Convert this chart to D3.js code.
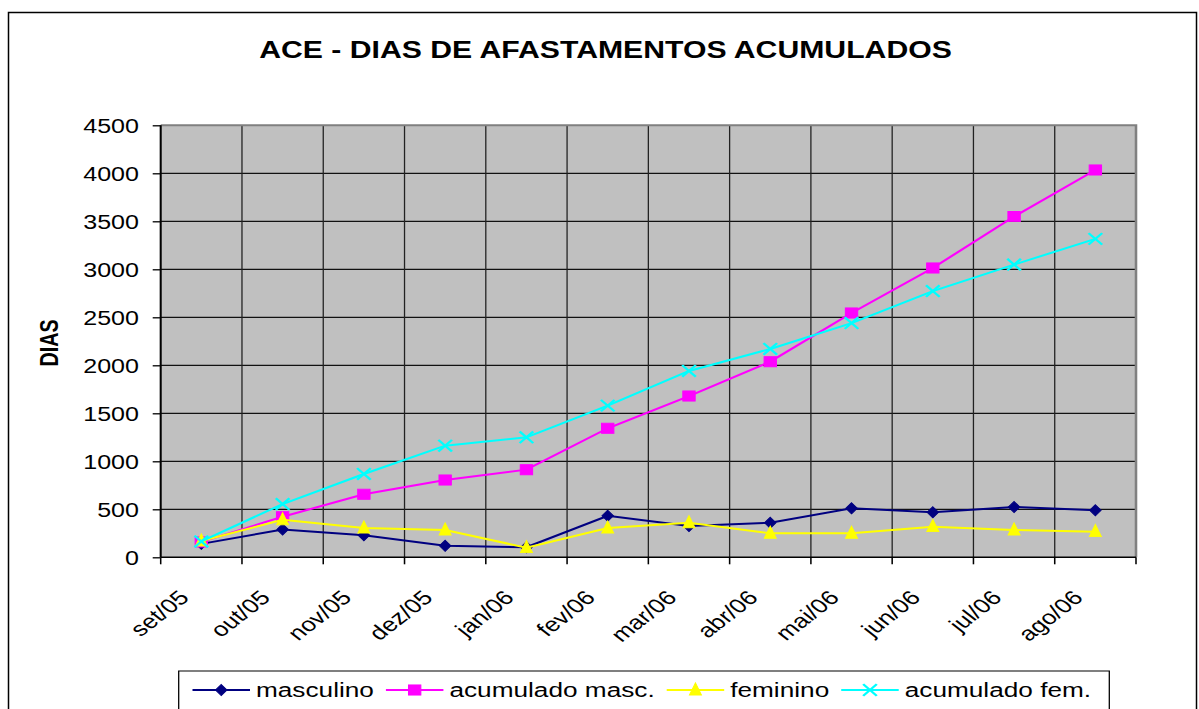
<!DOCTYPE html>
<html>
<head>
<meta charset="utf-8">
<script src="https://cdn.jsdelivr.net/npm/d3@7"></script>
<style>
  body { margin: 0; background: #fff; }
  text { font-family: "Liberation Sans", Arial, sans-serif; fill: #000; }
</style>
</head>
<body>
<div id="chart"></div>
<script>
// Data
var months = ["set/05", "out/05", "nov/05", "dez/05", "jan/06", "fev/06",
              "mar/06", "abr/06", "mai/06", "jun/06", "jul/06", "ago/06"];
var masculino = [140, 290, 230, 120, 105, 433, 325, 360, 510, 469, 524, 490];
var acumuladoMasc = [160, 423, 656, 805, 913, 1344, 1680, 2038, 2545, 3014, 3549, 4035];
var feminino = [170, 390, 305, 284, 100, 305, 360, 250, 250, 319, 284, 267];
var acumuladoFem = [165, 555, 868, 1163, 1250, 1580, 1941, 2170, 2440, 2773, 3049, 3317];
var yTicks = [0, 500, 1000, 1500, 2000, 2500, 3000, 3500, 4000, 4500];
var seriesNames = ["masculino", "acumulado masc.", "feminino", "acumulado fem."];

// Set up the chart
var svgWidth = 1199;
var svgHeight = 709;

// the original picture is stretched sideways, so everything is drawn
// in a narrower space and scaled back out
var sx = 1.285;

var plot = { left: 160.7, right: 1136, top: 125.3, bottom: 557.3 };

var svg = d3.select("#chart")
  .append("svg")
  .attr("width", svgWidth)
  .attr("height", svgHeight);

// outer chart border
svg.append("rect")
  .attr("x", 8.5)
  .attr("y", 12.5)
  .attr("width", 1188)
  .attr("height", 740)
  .attr("fill", "none")
  .attr("stroke", "#000")
  .attr("stroke-width", 1.5);

var g = svg.append("g")
  .attr("transform", `scale(${sx},1)`);

var left = plot.left / sx;
var right = plot.right / sx;

var xScale = d3.scaleBand()
  .domain(months)
  .range([left, right])
  .padding(0);

var yScale = d3.scaleLinear()
  .domain([0, 4500])
  .range([plot.bottom, plot.top]);

var cx = d => xScale(d) + xScale.bandwidth() / 2;

// plot background
g.append("rect")
  .attr("x", left)
  .attr("y", plot.top)
  .attr("width", right - left)
  .attr("height", plot.bottom - plot.top)
  .attr("fill", "#c0c0c0");

// horizontal gridlines
g.append("g")
  .selectAll("line")
  .data(yTicks.slice(1, -1))
  .enter()
  .append("line")
  .attr("x1", left)
  .attr("x2", right)
  .attr("y1", d => yScale(d))
  .attr("y2", d => yScale(d))
  .attr("stroke", "#111")
  .attr("stroke-width", 1.3);

// vertical gridlines at category edges
var edges = months.slice(1).map(m => xScale(m));
g.append("g")
  .selectAll("line")
  .data(edges)
  .enter()
  .append("line")
  .attr("x1", d => d)
  .attr("x2", d => d)
  .attr("y1", plot.top)
  .attr("y2", plot.bottom)
  .attr("stroke", "#222")
  .attr("stroke-width", 1);

// plot frame (top / right grey)
g.append("path")
  .attr("d", `M${left},${plot.top}H${right}V${plot.bottom}`)
  .attr("fill", "none")
  .attr("stroke", "#808080")
  .attr("stroke-width", 2);

// Y axis
var leftAxis = d3.axisLeft(yScale)
  .tickValues(yTicks)
  .tickFormat(d3.format("d"))
  .tickSize(8 / sx)
  .tickPadding(10.7);

var yAxis = g.append("g")
  .attr("transform", `translate(${left},0)`)
  .call(leftAxis);
yAxis.select(".domain").remove();
yAxis.selectAll("line").attr("stroke", "#000").attr("stroke-width", 1.3);
yAxis.selectAll("text")
  .attr("font-size", "19.5px")
  .attr("font-family", "Liberation Sans, Arial, sans-serif")
  .attr("fill", "#000")
  .attr("dy", "0.36em");

// axis lines
g.append("line")
  .attr("x1", left).attr("x2", left)
  .attr("y1", plot.top).attr("y2", plot.bottom)
  .attr("stroke", "#000").attr("stroke-width", 1.6);
g.append("line")
  .attr("x1", left).attr("x2", right)
  .attr("y1", plot.bottom).attr("y2", plot.bottom)
  .attr("stroke", "#000").attr("stroke-width", 1.6);

// X ticks at category edges
var allEdges = months.map(m => xScale(m)).concat([right]);
g.append("g")
  .selectAll("line")
  .data(allEdges)
  .enter()
  .append("line")
  .attr("x1", d => d)
  .attr("x2", d => d)
  .attr("y1", plot.bottom)
  .attr("y2", plot.bottom + 7)
  .attr("stroke", "#000")
  .attr("stroke-width", 1.2);

// X labels, rotated
g.append("g")
  .selectAll("text")
  .data(months)
  .enter()
  .append("text")
  .attr("transform", d => `translate(${cx(d) - 11 / sx},599) rotate(-45)`)
  .attr("text-anchor", "end")
  .attr("font-size", "20px")
  .text(d => d);

// Title
g.append("text")
  .attr("x", 605.5 / sx)
  .attr("y", 57.7)
  .attr("text-anchor", "middle")
  .attr("font-size", "23.5px")
  .attr("font-weight", "bold")
  .text("ACE - DIAS DE AFASTAMENTOS ACUMULADOS");

// Y axis title
g.append("text")
  .attr("transform", `translate(${58 / sx},343) rotate(-90)`)
  .attr("text-anchor", "middle")
  .attr("font-size", "19.7px")
  .attr("font-weight", "bold")
  .text("DIAS");

// markers
var markers = {
  diamond: "M0,-5.6L4.5,0L0,5.6L-4.5,0Z",
  square: "M-4.8,-5.1H4.8V5.1H-4.8Z",
  triangle: "M0,-7.2L4.7,5L-4.7,5Z",
  cross: "M-5.3,-5.8L5.3,5.8M-5.3,5.8L5.3,-5.8"
};

var series = [
  { name: seriesNames[0], values: masculino, color: "#000080", marker: "diamond" },
  { name: seriesNames[1], values: acumuladoMasc, color: "#ff00ff", marker: "square" },
  { name: seriesNames[2], values: feminino, color: "#ffff00", marker: "triangle" },
  { name: seriesNames[3], values: acumuladoFem, color: "#00ffff", marker: "cross" }
];

function drawMarker(sel, s) {
  if (s.marker === "cross") {
    sel.append("path")
      .attr("d", markers.cross)
      .attr("fill", "none")
      .attr("stroke", s.color)
      .attr("stroke-width", 2);
  } else {
    sel.append("path")
      .attr("d", markers[s.marker])
      .attr("fill", s.color)
      .attr("stroke", s.color)
      .attr("stroke-width", 0.8);
  }
}

var line = d3.line()
  .x((d, i) => cx(months[i]))
  .y(d => yScale(d));

series.forEach(function(s) {
  var sg = g.append("g");
  sg.append("path")
    .datum(s.values)
    .attr("d", line)
    .attr("fill", "none")
    .attr("stroke", s.color)
    .attr("stroke-width", 2);

  s.values.forEach(function(v, i) {
    var mg = sg.append("g")
      .attr("transform", `translate(${cx(months[i])},${yScale(v)})`);
    drawMarker(mg, s);
  });
});

// Legend
var legend = g.append("g");
legend.append("rect")
  .attr("x", 178.7 / sx)
  .attr("y", 671)
  .attr("width", (1109.3 - 178.7) / sx)
  .attr("height", 60)
  .attr("fill", "#fff")
  .attr("stroke", "#000")
  .attr("stroke-width", 1);

var cursor = 192.5 / sx;
var lineLen = 57.5 / sx;
series.forEach(function(s) {
  legend.append("line")
    .attr("x1", cursor)
    .attr("x2", cursor + lineLen)
    .attr("y1", 690)
    .attr("y2", 690)
    .attr("stroke", s.color)
    .attr("stroke-width", 2);
  var mg = legend.append("g")
    .attr("transform", `translate(${cursor + lineLen / 2},690)`);
  drawMarker(mg, s);
  var t = legend.append("text")
    .attr("x", cursor + lineLen + 6 / sx)
    .attr("y", 697)
    .attr("font-size", "20.4px")
    .text(s.name);
  cursor = cursor + lineLen + 6 / sx + t.node().getComputedTextLength() + 12 / sx;
});
</script>
</body>
</html>
